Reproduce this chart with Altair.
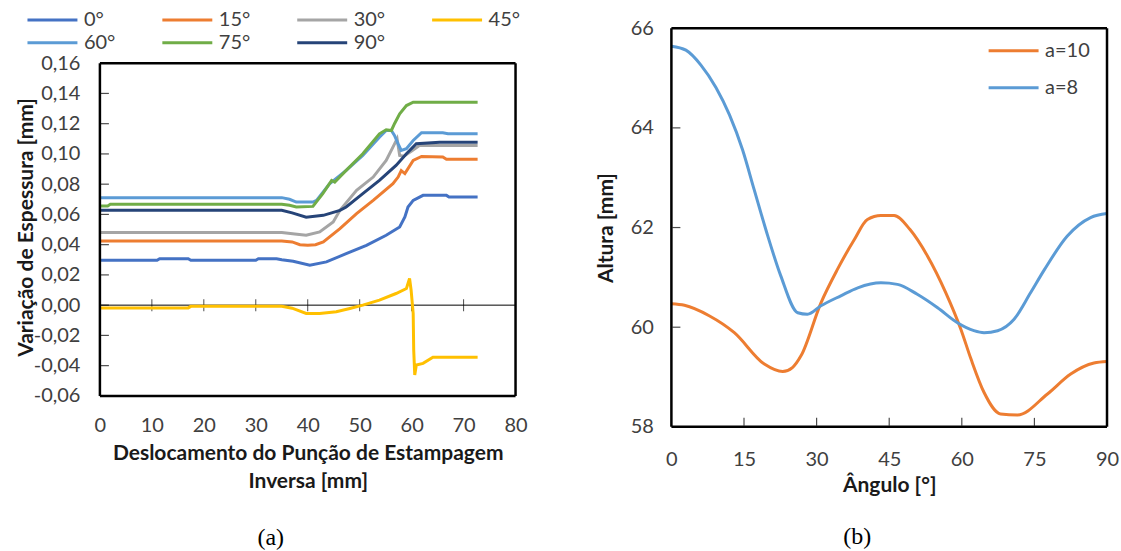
import altair as alt
import pandas as pd

# ---------------- Panel (a) data ----------------
series_a = ["0°", "15°", "30°", "45°", "60°", "75°", "90°"]
colors_a = ["#4472C4", "#ED7D31", "#A5A5A5", "#FFC000", "#5B9BD5", "#70AD47", "#264478"]

x_0 = [0, 11, 11.5, 17, 17.5, 30, 30.5, 34, 35, 37.2, 40.4, 43.6, 47.4, 51.3, 55.1, 57.7, 58.7, 59.3, 60.3, 62.2, 66.7, 67.2, 72.7]
y_0 = [0.0297, 0.0297, 0.0307, 0.0307, 0.0297, 0.0297, 0.0307, 0.0307, 0.0300, 0.0290, 0.0264, 0.0286, 0.0340, 0.0396, 0.0462, 0.0517, 0.0583, 0.0649, 0.0693, 0.0726, 0.0726, 0.0715, 0.0715]

x_15 = [0, 35, 37, 38.5, 40, 41.5, 43, 46.2, 49.4, 52.6, 56.4, 57.4, 58, 58.7, 60.3, 61.9, 66, 66.7, 72.7]
y_15 = [0.0424, 0.0424, 0.0418, 0.0400, 0.0396, 0.0400, 0.0418, 0.0506, 0.0605, 0.0693, 0.0803, 0.0847, 0.0890, 0.0870, 0.0957, 0.0983, 0.0979, 0.0964, 0.0964]

x_30 = [0, 35, 37.5, 39.7, 42.3, 44.9, 46.2, 49.4, 52.6, 55.1, 56.4, 57.2, 57.7, 58.5, 60, 61.5, 72.7]
y_30 = [0.0480, 0.0480, 0.0470, 0.0462, 0.0484, 0.0550, 0.0627, 0.0759, 0.0847, 0.0957, 0.1045, 0.1100, 0.0990, 0.0985, 0.1020, 0.1056, 0.1056]

x_45 = [0, 17, 17.5, 35, 37, 39.7, 42.3, 45.5, 48.1, 50.6, 53.8, 57, 59, 59.6, 59.9, 60.3, 60.4, 60.6, 60.9, 62.2, 64.1, 72.7]
y_45 = [-0.0018, -0.0018, -0.0008, -0.0008, -0.0020, -0.0055, -0.0055, -0.0044, -0.0022, 0.0000, 0.0033, 0.0077, 0.0110, 0.0176, 0.0099, -0.0055, -0.0297, -0.0462, -0.0396, -0.0385, -0.0345, -0.0345]

x_60 = [0, 35, 36.5, 37.8, 41, 41.7, 44.2, 47.4, 50.6, 53.8, 55.1, 56.1, 56.7, 57.4, 58, 59, 60.3, 61.9, 66, 67, 72.7]
y_60 = [0.0711, 0.0711, 0.0700, 0.0682, 0.0682, 0.0693, 0.0803, 0.0891, 0.0990, 0.1110, 0.1155, 0.1155, 0.1122, 0.1067, 0.1023, 0.1034, 0.1089, 0.1140, 0.1140, 0.1133, 0.1133]

x_75 = [0, 1.5, 2, 35, 36.5, 37.8, 41, 42.9, 44.6, 45.2, 47.4, 50.6, 53.8, 55.1, 56.1, 56.7, 57.7, 59, 60.3, 72.7]
y_75 = [0.0656, 0.0656, 0.0667, 0.0667, 0.0660, 0.0649, 0.0653, 0.0737, 0.0825, 0.0814, 0.0891, 0.1001, 0.1133, 0.1160, 0.1155, 0.1200, 0.1265, 0.1320, 0.1342, 0.1342]

x_90 = [0, 35, 37, 39.7, 43, 46.2, 47.4, 50.6, 53.8, 57, 59, 60.9, 65.4, 72.7]
y_90 = [0.0627, 0.0627, 0.0610, 0.0581, 0.0594, 0.0627, 0.0649, 0.0737, 0.0825, 0.0924, 0.1001, 0.1067, 0.1078, 0.1078]

x_ticks_a = [0, 10, 20, 30, 40, 50, 60, 70, 80]
y_ticks_a = [-0.06, -0.04, -0.02, 0.0, 0.02, 0.04, 0.06, 0.08, 0.10, 0.12, 0.14, 0.16]

# ---------------- Panel (b) data ----------------
series_b = ["a=10", "a=8"]
colors_b = ["#ED7D31", "#5B9BD5"]

ang_10 = [0, 2.7, 7.8, 13, 19.2, 23, 25, 26.8, 30.9, 34.3, 37.8, 40.5, 43.3, 46, 49.3, 52.9, 56.7, 59.8, 61.9, 64.6, 68, 71.5, 77.7, 82.5, 87.3, 90]
alt_10 = [60.47, 60.44, 60.23, 59.89, 59.26, 59.11, 59.19, 59.43, 60.49, 61.16, 61.76, 62.16, 62.24, 62.24, 61.96, 61.43, 60.69, 59.96, 59.36, 58.69, 58.26, 58.24, 58.66, 59.06, 59.28, 59.31]

ang_8 = [0, 3, 6.1, 9.2, 12, 14.7, 17.1, 19.6, 22.6, 26.1, 28.1, 30.9, 35, 38.5, 43.3, 46.7, 50.8, 55, 59.1, 62.5, 64.6, 67.4, 70.8, 74.2, 77.1, 81.8, 86.6, 90]
alt_8 = [65.64, 65.56, 65.26, 64.81, 64.26, 63.56, 62.76, 61.93, 61.03, 60.29, 60.26, 60.43, 60.63, 60.79, 60.89, 60.86, 60.66, 60.39, 60.09, 59.93, 59.89, 59.93, 60.16, 60.69, 61.16, 61.83, 62.20, 62.28]

x_ticks_b = [0, 15, 30, 45, 60, 75, 90]
y_ticks_b = [58, 60, 62, 64, 66]

FONT = "Lato"
LABEL_COLOR = "#404040"
TITLE_COLOR = "#1a1a1a"
LEGEND_LINE = "M-2.5,0H2.5"
FRAME_W = 2.5

# ---------------- build tables ----------------
rows = []
for name, xs, ys in zip(series_a, [x_0, x_15, x_30, x_45, x_60, x_75, x_90],
                        [y_0, y_15, y_30, y_45, y_60, y_75, y_90]):
    for xv, yv in zip(xs, ys):
        rows.append({"serie": name, "x": xv, "y": yv})
df_a = pd.DataFrame(rows)

rows = []
for name, xs, ys in zip(series_b, [ang_10, ang_8], [alt_10, alt_8]):
    for xv, yv in zip(xs, ys):
        rows.append({"serie": name, "x": xv, "y": yv})
df_b = pd.DataFrame(rows)

# ---------------- Panel (a) ----------------
# plot area extended 35 px upward (legend room) so that both frames sit as in the reference
A_H = 368
A_TOP = 0.16 + 35 * 0.22 / 333

axis_xa = alt.Axis(values=x_ticks_a, title=["Deslocamento do Punção de Estampagem", "Inversa [mm]"],
                   ticks=False, domain=False, grid=False,
                   labelPadding=20, labelFontSize=20,
                   labelFont=FONT, labelColor=LABEL_COLOR, labelFlush=False, labelOverlap=False,
                   titleFont=FONT, titleFontSize=21, titleFontWeight="bold", titleColor=TITLE_COLOR,
                   titlePadding=7, titleLineHeight=28)
axis_ya = alt.Axis(values=y_ticks_a, title="Variação de Espessura [mm]",
                   labelExpr="(datum.value < -1e-9 ? '-' : '') + replace(format(abs(datum.value), '.2f'), '.', ',')",
                   ticks=False, domain=False, grid=False, labelPadding=20, labelFontSize=20,
                   labelFont=FONT, labelColor=LABEL_COLOR, labelOverlap=False, labelFlush=False,
                   titleFont=FONT, titleFontSize=21, titleFontWeight="bold", titleColor=TITLE_COLOR,
                   titlePadding=-3, titleY=199)
XA = alt.X("x:Q", scale=alt.Scale(domain=[0, 80], nice=False, zero=False), axis=axis_xa)
YA = alt.Y("y:Q", scale=alt.Scale(domain=[-0.06, A_TOP], nice=False, zero=False), axis=axis_ya)

sides_a = alt.Chart(pd.DataFrame({"x": [x_ticks_a[0], x_ticks_a[-1]], "y": [y_ticks_a[0]] * 2,
                                  "y2": [y_ticks_a[-1]] * 2})).mark_rule(
    color="black", strokeWidth=FRAME_W).encode(x=XA, y=YA, y2="y2:Q")
tb_a = alt.Chart(pd.DataFrame({"y": [y_ticks_a[0], y_ticks_a[-1]]})).mark_rule(
    color="black", strokeWidth=FRAME_W).encode(y=YA)
zero_a = alt.Chart(pd.DataFrame({"y": [0.0]})).mark_rule(color="black", strokeWidth=1).encode(y=YA)
xt_a = alt.Chart(pd.DataFrame({"x": x_ticks_a[1:-1], "y": [0.0] * (len(x_ticks_a) - 2)})).mark_tick(
    orient="vertical", size=12, thickness=1, color="black").encode(x=XA, y=YA)
yt_a = alt.Chart(pd.DataFrame({"y": y_ticks_a[1:-1], "x": [0] * (len(y_ticks_a) - 2)})).mark_tick(
    orient="horizontal", size=8, thickness=1.2, color="black", xOffset=5).encode(x=XA, y=YA)
lines_a = alt.Chart(df_a).mark_line(strokeWidth=3).encode(
    x=XA, y=YA,
    color=alt.Color("serie:N", scale=alt.Scale(domain=series_a, range=colors_a), sort=series_a,
                    legend=alt.Legend(orient="none", legendX=-59, legendY=-20, columns=4, direction="horizontal",
                                      title=None, symbolType=LEGEND_LINE, symbolSize=400, symbolStrokeWidth=3,
                                      labelFont=FONT, labelFontSize=20, labelColor=LABEL_COLOR,
                                      labelOffset=20, columnPadding=40, rowPadding=1, gridAlign="all",
                                      padding=0)),
)
panel_a = alt.layer(zero_a, xt_a, yt_a, lines_a, sides_a, tb_a).properties(
    width=416, height=A_H,
    title=alt.TitleParams("(a)", orient="bottom", anchor="middle", frame="group", dx=-37, offset=34,
                          font="Liberation Serif", fontSize=24, fontWeight="normal", color="black"),
)

# ---------------- Panel (b) ----------------
axis_xb = alt.Axis(values=x_ticks_b, title="Ângulo [°]", ticks=False, domain=False, grid=False,
                   labelPadding=23, labelFontSize=20, labelFont=FONT, labelColor=LABEL_COLOR,
                   labelFlush=False, labelOverlap=False,
                   titleFont=FONT, titleFontSize=21, titleFontWeight="bold", titleColor=TITLE_COLOR,
                   titlePadding=5)
axis_yb = alt.Axis(values=y_ticks_b, title="Altura [mm]", ticks=False, domain=False, grid=False,
                   labelPadding=18, labelFontSize=20, labelFont=FONT, labelColor=LABEL_COLOR,
                   labelFlush=False, labelOverlap=False,
                   titleFont=FONT, titleFontSize=21, titleFontWeight="bold", titleColor=TITLE_COLOR,
                   titlePadding=14)
XB = alt.X("x:Q", scale=alt.Scale(domain=[0, 90], nice=False, zero=False), axis=axis_xb)
YB = alt.Y("y:Q", scale=alt.Scale(domain=[58, 66], nice=False, zero=False), axis=axis_yb)

sides_b = alt.Chart(pd.DataFrame({"x": [x_ticks_b[0], x_ticks_b[-1]], "y": [y_ticks_b[0]] * 2,
                                  "y2": [y_ticks_b[-1]] * 2})).mark_rule(
    color="black", strokeWidth=FRAME_W).encode(x=XB, y=YB, y2="y2:Q")
tb_b = alt.Chart(pd.DataFrame({"y": [y_ticks_b[0], y_ticks_b[-1]]})).mark_rule(
    color="black", strokeWidth=FRAME_W).encode(y=YB)
xt_b = alt.Chart(pd.DataFrame({"x": x_ticks_b[1:-1], "y": [58] * (len(x_ticks_b) - 2)})).mark_tick(
    orient="vertical", size=8, thickness=1.2, color="black", yOffset=-5).encode(x=XB, y=YB)
yt_b = alt.Chart(pd.DataFrame({"y": y_ticks_b[1:-1], "x": [0] * (len(y_ticks_b) - 2)})).mark_tick(
    orient="horizontal", size=8, thickness=1.2, color="black", xOffset=5).encode(x=XB, y=YB)
lines_b = alt.Chart(df_b).mark_line(strokeWidth=3, interpolate="monotone").encode(
    x=XB, y=YB,
    color=alt.Color("serie:N", scale=alt.Scale(domain=series_b, range=colors_b), sort=series_b,
                    legend=alt.Legend(orient="none", legendX=331, legendY=11, title=None,
                                      symbolType=LEGEND_LINE, symbolSize=400, symbolStrokeWidth=3,
                                      labelFont=FONT, labelFontSize=20, labelColor=LABEL_COLOR,
                                      labelOffset=20, rowPadding=15, padding=0)),
)

panel_b = alt.layer(xt_b, yt_b, lines_b, sides_b, tb_b).properties(
    width=436, height=399,
    title=alt.TitleParams("(b)", orient="bottom", anchor="middle", frame="group", dx=-32, offset=29,
                          font="Liberation Serif", fontSize=24, fontWeight="normal", color="black"),
)

chart = alt.hconcat(panel_a, panel_b, spacing=67).resolve_scale(
    x="independent", y="independent", color="independent"
).properties(
    padding={"left": 15, "top": 8, "right": 2, "bottom": 0},
    background="white",
).configure_view(strokeOpacity=0)

chart.save("out.html", embed_options={"renderer": "svg", "actions": False})
